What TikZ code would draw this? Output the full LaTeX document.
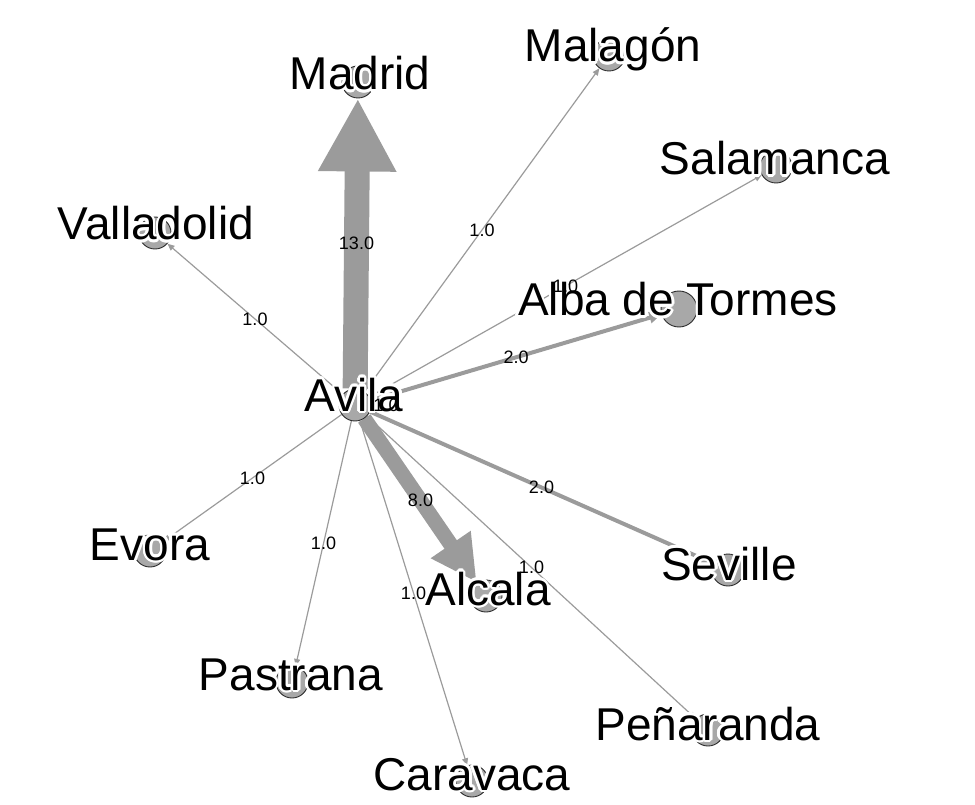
\documentclass[tikz,border=0pt]{standalone}
\usepackage{fontspec}
\setmainfont{Liberation Sans}
\usepackage{contour}
\usetikzlibrary{arrows.meta,backgrounds}
\contourlength{2.5pt}
\definecolor{edgegray}{HTML}{9B9B9B}
\definecolor{nodegray}{HTML}{A8A8A8}
\definecolor{rimgray}{HTML}{2E2E2E}

\begin{document}
\begin{tikzpicture}
    % styles: city circle, city name, edge label, edge widths
    [x=1pt,y=-1pt,
    City/.style={circle, draw=rimgray, fill=nodegray, line width=0.9pt, minimum size=32pt, inner sep=0pt},
    CityText/.style={anchor=base, inner sep=0pt, font=\fontsize{46}{50}\selectfont},
    EdgeText/.style={inner sep=0pt, font=\fontsize{18}{20}\selectfont},
    Edge/.style={draw=edgegray},
    w1/.style={line width=1.2pt, -{Triangle[length=7pt,width=6pt]}},
    w2/.style={line width=4pt, -{Triangle[length=12pt,width=11pt]}},
    w8/.style={line width=15pt, -{Triangle[length=46pt,width=45pt]}},
    w13/.style={line width=25pt, -{Triangle[length=73pt,width=73pt]}}]

    % page size
    \useasboundingbox (0,0) rectangle (975,805);

    % city circles
    \foreach \n/\x/\y in {avila/355/405, madrid/358/82, malagon/609/55,
        salamanca/776/167, valladolid/155/233, evora/150/551, alcala/486/596,
        seville/728/570, pastrana/292/682, penaranda/708/730, caravaca/472/781}
    \node[City] (\n) at (\x,\y) {};
    \node[City, minimum size=36pt] (alba) at (679,309) {};

    % edges from Avila (behind the circles)
    \foreach \n/\s in {madrid/w13, malagon/w1, salamanca/w1,
        valladolid/w1, alba/w2, evora/w1, alcala/w8,
        seville/w2, pastrana/w1, penaranda/w1, caravaca/w1}
    {
        \begin{pgfonlayer}{background}
            \draw[Edge,\s] (avila) -- (\n);
        \end{pgfonlayer}
    }

    % city names
    \foreach \n/\x/\y/\t in {avila/354/403/Avila, madrid/360/82/Madrid,
        malagon/613/54/Malagón, salamanca/775/167/Salamanca,
        valladolid/156/232/Valladolid, alba/678/308/Alba de Tormes,
        evora/150/552/Evora, alcala/488/597/Alcala, seville/729/572/Seville,
        pastrana/291/682/Pastrana, penaranda/708/732/Peñaranda,
        caravaca/472/782/Caravaca}
    \node[CityText] (\n-name) at (\x,\y+8) {\contour{white}{\t}};

    % edge weights
    \foreach \n/\v in {madrid/13.0, malagon/1.0, salamanca/1.0,
        valladolid/1.0, alba/2.0, evora/1.0, alcala/8.0,
        seville/2.0, pastrana/1.0, penaranda/1.0, caravaca/1.0}
    \path (avila) -- (\n) node[EdgeText, midway] (\n-weight) {\v};
    \node[EdgeText] (avila-weight) at (386,405) {1.0};

\end{tikzpicture}
\end{document}
